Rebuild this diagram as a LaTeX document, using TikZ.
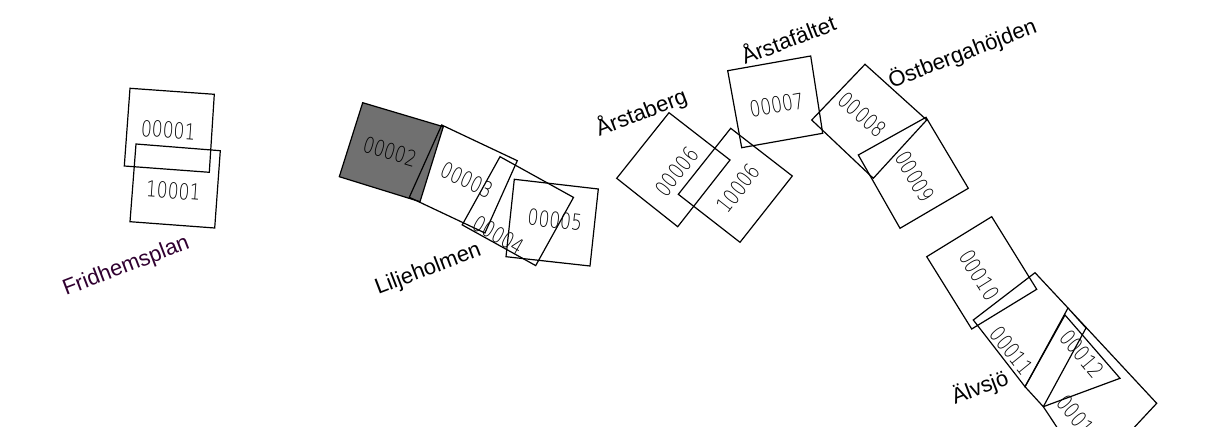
\documentclass[tikz,border=0pt]{standalone}
\usepackage{fontspec}
\setmainfont{Liberation Sans}
\newfontfamily\boxfont[FakeStretch=0.78]{DejaVu Sans ExtraLight}
\begin{document}
\begin{tikzpicture}[x=1pt,y=-1pt,
  box/.style={draw=black, line width=1.2pt, line join=miter},
  lbl/.style={font=\fontsize{22}{26}\selectfont, anchor=base west, inner sep=0pt, rotate=21},
  num/.style={font=\boxfont\fontsize{22}{26}\selectfont, inner sep=0pt, text=black}]
\useasboundingbox (0,0) rectangle (1209,427);
\clip (0,0) rectangle (1209,427);
% Fridhemsplan
\draw[box] (130,88.3) -- (214.3,94.3) -- (209.3,172.3) -- (124.3,166) -- cycle;
\draw[box] (136,144) -- (220.3,150.7) -- (214.7,228) -- (130,221.7) -- cycle;
\node[num, rotate=-4] (n1) at (168.3,130) {00001};
\node[num, rotate=-4] (n10001) at (173.3,190.7) {10001};
\node[lbl, text={rgb,255:red,48;green,0;blue,48}] (fr) at (66,296) {Fridhemsplan};
% Liljeholmen
\draw[box, fill={rgb,255:red,112;green,112;blue,112}] (362.7,102.7) -- (443.3,126.7) -- (420,201.7) -- (339.3,176.7) -- cycle;
\draw[box] (441.7,125) -- (517.3,160.7) -- (484.9,233) -- (409.3,197.3) -- cycle;
\draw[box] (500,156.7) -- (573.5,197.4) -- (535.7,265.6) -- (462.2,224.9) -- cycle;
\draw[box] (514.3,179.3) -- (598.3,189) -- (590,266) -- (506,256.7) -- cycle;
\node[num, rotate=-16.6] (n2) at (390,151.7) {00002};
\node[num, rotate=-25.3] (n3) at (466.7,180) {00003};
\node[num, rotate=-30] (n4) at (498.3,235) {00004};
\node[num, rotate=-6.6] (n5) at (555,220) {00005};
\node[lbl] (li) at (378.3,295) {Liljeholmen};
% Årstaberg
\draw[box] (669,112.7) -- (730,160) -- (677.7,226.7) -- (616.7,178.3) -- cycle;
\draw[box] (730.7,128.3) -- (792.3,176) -- (740,242.3) -- (678.3,194.3) -- cycle;
\node[num, rotate=51.9] (n6) at (676.7,171.7) {00006};
\node[num, rotate=51.9] (n10006) at (738.3,188.3) {10006};
\node[lbl] (ab) at (599.3,136.7) {Årstaberg};
% Årstafältet
\draw[box] (727.7,70.7) -- (810.7,56) -- (822.7,133.3) -- (741.7,147.7) -- cycle;
\node[num, rotate=10] (n7) at (776.7,105) {00007};
\node[lbl] (af) at (745,65) {Årstafältet};
% Östbergahöjden
\draw[box] (865,64.3) -- (926.7,120) -- (873.3,178.3) -- (811.7,120) -- cycle;
\draw[box] (858.3,155) -- (926,117.3) -- (968.3,188.3) -- (900,228.3) -- cycle;
\node[num, rotate=-42] (n8) at (862.5,115) {00008};
\node[num, rotate=-59] (n9) at (915,176.7) {00009};
\node[lbl] (ob) at (891.7,88.3) {Östbergahöjden};
% Älvsjö
\draw[box] (926.7,256.7) -- (991.7,216.7) -- (1036.7,289.3) -- (971.7,329) -- cycle;
\draw[box] (973.3,320) -- (1035,272.7) -- (1068,308) -- (1025,386.7) -- cycle;
\draw[box] (1065,315) -- (1120,378.3) -- (1043.3,406.7) -- (1025,386.7) -- cycle;
\draw[box] (1068,308) -- (1156.7,403.3) -- (1115,448) -- (1070,447) -- (1043.3,406.7) -- (1086,328) -- cycle;
\node[num, rotate=-58] (n10) at (979.3,275) {00010};
\node[num, rotate=-51] (n11) at (1011.7,350.7) {00011};
\node[num, rotate=-50] (n12) at (1081.7,354) {00012};
\node[num, rotate=-50, anchor=west] (n13) at (1061,398) {00013};
\node[lbl] (al) at (955,405) {Älvsjö};
\end{tikzpicture}
\end{document}
